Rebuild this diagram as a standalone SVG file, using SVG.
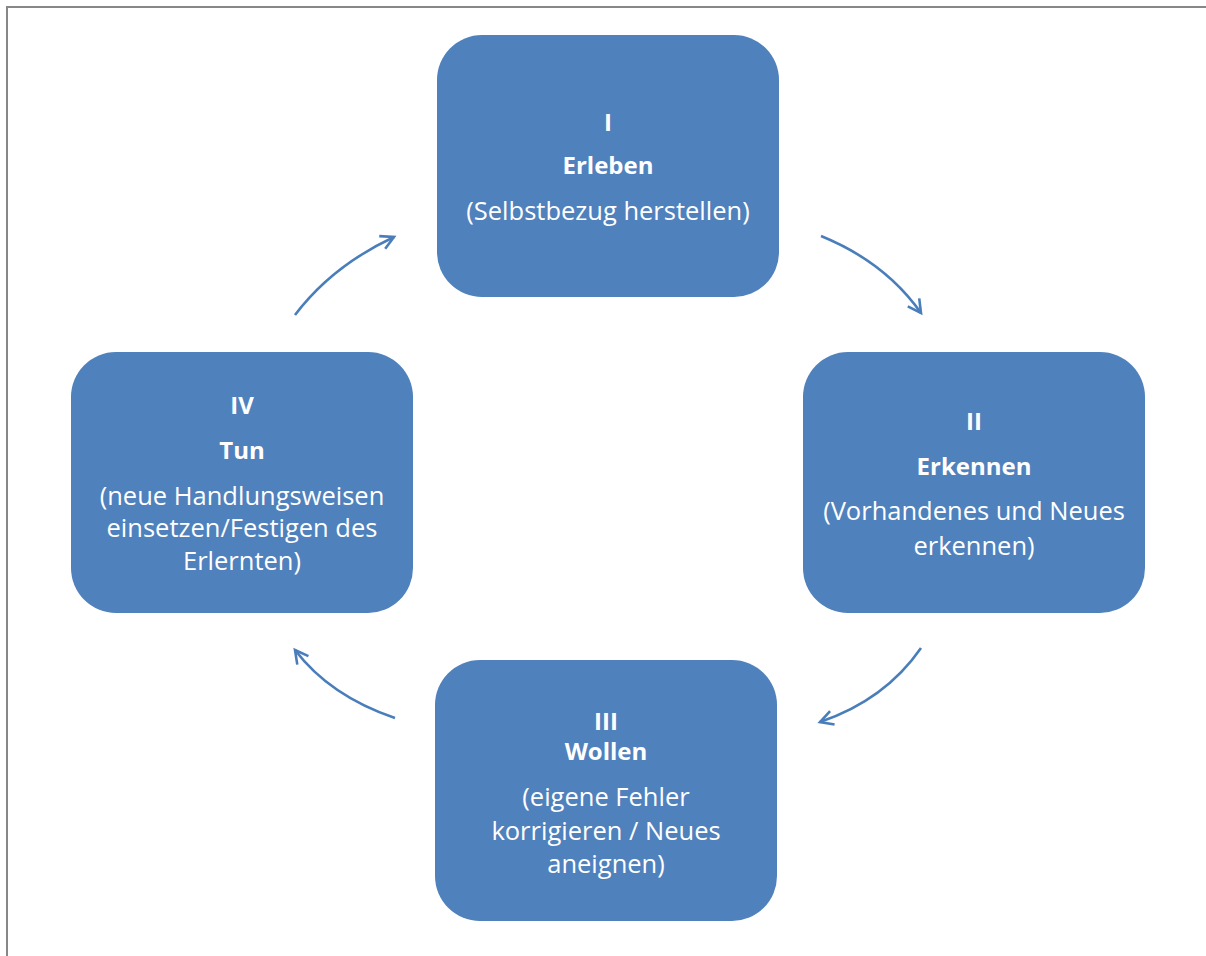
<svg xmlns="http://www.w3.org/2000/svg" width="1206" height="956" viewBox="0 0 1206 956">
<defs>
<style>
.box{fill:#4F81BD;}
.t{font-family:"Open Sans","Liberation Sans",Arial,sans-serif;font-size:25.5px;fill:#fff;text-anchor:middle;}
.b{font-weight:bold;font-size:24px;}
.c{fill:none;stroke:#4A7EBB;stroke-width:2.6;}
</style>
<marker id="ah" viewBox="0 0 18 18" refX="15" refY="9" markerWidth="18" markerHeight="18" markerUnits="userSpaceOnUse" orient="auto">
<path d="M2,2 L15,9 L2,16" fill="none" stroke="#4A7EBB" stroke-width="2.6"/>
</marker>
</defs>
<rect width="1206" height="956" fill="#fff"/>
<path d="M7,956 V7 H1206" fill="none" stroke="#888" stroke-width="2"/>
<g id="n1"><rect class="box" x="437" y="35" width="342" height="262" rx="45"/>
<text class="t b" x="608" y="131">I</text>
<text class="t b" x="608" y="174">Erleben</text>
<text class="t" x="608" y="220">(Selbstbezug herstellen)</text></g>
<g id="n2"><rect class="box" x="803" y="352" width="342" height="261" rx="45"/>
<text class="t b" x="974" y="430">II</text>
<text class="t b" x="974" y="475">Erkennen</text>
<text class="t" x="974" y="520">(Vorhandenes und Neues</text>
<text class="t" x="974" y="555">erkennen)</text></g>
<g id="n3"><rect class="box" x="435" y="660" width="342" height="261" rx="45"/>
<text class="t b" x="606" y="730">III</text>
<text class="t b" x="606" y="760">Wollen</text>
<text class="t" x="606" y="806">(eigene Fehler</text>
<text class="t" x="606" y="840">korrigieren / Neues</text>
<text class="t" x="606" y="873">aneignen)</text></g>
<g id="n4"><rect class="box" x="71" y="352" width="342" height="261" rx="45"/>
<text class="t b" x="242" y="414">IV</text>
<text class="t b" x="242" y="459">Tun</text>
<text class="t" x="242" y="505">(neue Handlungsweisen</text>
<text class="t" x="242" y="537">einsetzen/Festigen des</text>
<text class="t" x="242" y="570">Erlernten)</text></g>
<g id="connectors">
<path class="c" d="M821,236 Q885,262 921,313" marker-end="url(#ah)"/>
<path class="c" d="M921,648 Q885,700 820,722" marker-end="url(#ah)"/>
<path class="c" d="M395,718 Q330,696 295,650" marker-end="url(#ah)"/>
<path class="c" d="M295,315 Q332,266 394,237" marker-end="url(#ah)"/>
</g>
</svg>
